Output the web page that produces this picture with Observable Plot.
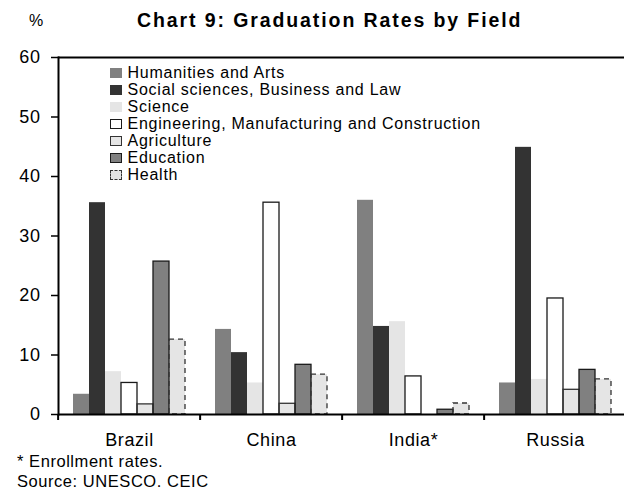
<!DOCTYPE html>
<html>
<head>
<meta charset="utf-8">
<script src="https://cdn.jsdelivr.net/npm/d3@7"></script>
<script src="https://cdn.jsdelivr.net/npm/@observablehq/plot@0.6"></script>
<style>
  html, body { margin: 0; padding: 0; background: #fff; overflow: hidden; }
  #wrap { position: relative; width: 624px; height: 491px; font-family: "Liberation Sans", Arial, sans-serif; color: #000; }
  #wrap svg text { letter-spacing: 0.6px; }
  .abs { position: absolute; white-space: nowrap; line-height: 1; }
  #title { left: 137px; top: 11px; font-size: 19.5px; font-weight: bold; letter-spacing: 1.9px; }
  #pct { left: 29px; top: 13px; font-size: 16px; }
  #note { left: 17px; top: 452.7px; font-size: 16.5px; letter-spacing: 0.55px; }
  #src { left: 17px; top: 473px; font-size: 16.5px; letter-spacing: 0.55px; }
  #legend { position: absolute; left: 110px; top: 64.2px; font-size: 16px; letter-spacing: 0.75px; }
  #legend .row { height: 17.05px; line-height: 17.05px; white-space: nowrap; }
  #legend .sw { display: inline-block; width: 12px; height: 10px; box-sizing: border-box; vertical-align: baseline; margin-right: 5.5px; }
</style>
</head>
<body>
<div id="wrap"></div>
<script>
// ---- data ----
const countries = ["Brazil", "China", "India*", "Russia"];
const fields = [
  "Humanities and Arts",
  "Social sciences, Business and Law",
  "Science",
  "Engineering, Manufacturing and Construction",
  "Agriculture",
  "Education",
  "Health"
];
const humanities  = [3.4, 14.3, 36.0, 5.3];
const social      = [35.6, 10.4, 14.8, 44.9];
const science     = [7.2, 5.3, 15.6, 5.9];
const engineering = [5.3, 35.6, 6.4, 19.5];
const agriculture = [1.7, 1.8, null, 4.15];
const education   = [25.7, 8.35, 0.8, 7.5];
const health      = [12.6, 6.7, 1.85, 5.9];
const yTicks = [0, 10, 20, 30, 40, 50, 60];

// ---- styles ----
const fills   = ["#808080", "#333333", "#e5e5e5", "#ffffff", "#e5e5e5", "#808080", "#e5e5e5"];
const strokes = [null, null, null, "#1a1a1a", "#333333", "#1a1a1a", "#333333"];
const dashes  = [null, null, null, null, null, null, "5,4"];

const series = [humanities, social, science, engineering, agriculture, education, health];
const data = [];
countries.forEach((c, i) => {
  fields.forEach((f, j) => {
    const v = series[j][i];
    if (v != null) data.push({country: c, field: f, value: v});
  });
});
const solidStroked = new Set([fields[3], fields[4], fields[5]]);

const wrap = document.getElementById("wrap");

const chart = Plot.plot({
  width: 624,
  height: 491,
  marginTop: 57,
  marginBottom: 77,
  marginLeft: 56,
  marginRight: -3,
  style: {fontFamily: "'Liberation Sans', Arial, sans-serif", fontSize: "18px", color: "#000", background: "transparent"},
  fx: {domain: countries, padding: 0, axis: null, label: null},
  x: {domain: fields, paddingInner: 0, paddingOuter: 0.77, axis: null},
  y: {domain: [0, 60], axis: null},
  color: {domain: fields, range: fills},
  marks: [
    Plot.barY(data, {fx: "country", x: "field", y: "value", fill: "field"}),
    Plot.barY(data.filter(d => solidStroked.has(d.field)), {
      fx: "country", x: "field", y: "value", fill: "none",
      stroke: d => strokes[fields.indexOf(d.field)], strokeWidth: 1.3
    }),
    Plot.barY(data.filter(d => d.field === fields[6]), {
      fx: "country", x: "field", y: "value", fill: "none",
      stroke: strokes[6], strokeWidth: 1.3, strokeDasharray: dashes[6]
    }),
    Plot.ruleY([0], {stroke: "#000", strokeWidth: 2}),
    Plot.ruleY([60], {stroke: "#000", strokeWidth: 2}),
    Plot.frame({anchor: "left", facetAnchor: "left", stroke: "#000", strokeWidth: 2}),
    Plot.axisY({ticks: yTicks, tickSize: 7, tickPadding: 11, fontSize: 18, label: null, strokeWidth: 1.5}),
    Plot.axisFx({anchor: "bottom", tickSize: 0, tickPadding: 19, fontSize: 18, label: null}),
    Plot.axisFx({anchor: "bottom", tickSize: 6, tickFormat: () => "", label: null, strokeWidth: 2, dx: -571 / 8})
  ]
});
wrap.appendChild(chart);

function addText(id, text) {
  const d = document.createElement("div");
  d.className = "abs";
  d.id = id;
  d.textContent = text;
  wrap.appendChild(d);
}
addText("pct", "%");
addText("title", "Chart 9: Graduation Rates by Field");
addText("note", "* Enrollment rates.");
addText("src", "Source: UNESCO. CEIC");

// legend
const legend = document.createElement("div");
legend.id = "legend";
fields.forEach((f, j) => {
  const row = document.createElement("div");
  row.className = "row";
  const sw = document.createElement("span");
  sw.className = "sw";
  sw.style.background = fills[j];
  if (strokes[j]) sw.style.border = `1px ${dashes[j] ? "dashed" : "solid"} ${strokes[j]}`;
  row.appendChild(sw);
  row.appendChild(document.createTextNode(f));
  legend.appendChild(row);
});
wrap.appendChild(legend);
</script>
</body>
</html>
